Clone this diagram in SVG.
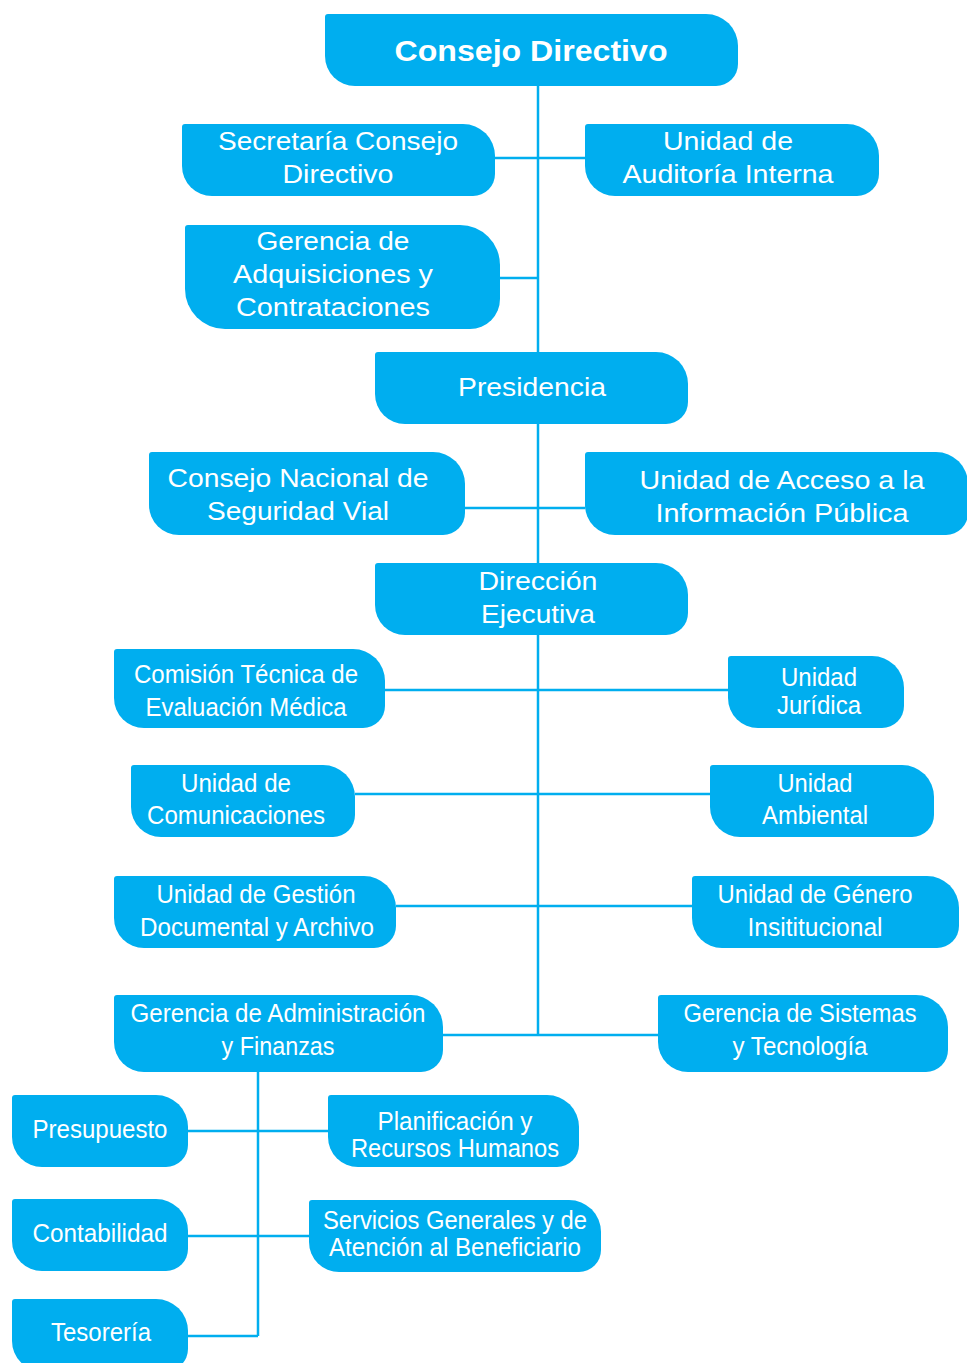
<svg xmlns="http://www.w3.org/2000/svg" width="967" height="1363" viewBox="0 0 967 1363">
<style>
.b{fill:#00AEEF}
.c{stroke:#00AEEF;stroke-width:2.5;fill:none}
text{font-family:"Liberation Sans",Arial,sans-serif;fill:#fff;text-anchor:middle;font-size:25px}
.t{font-weight:bold;font-size:29px}
</style>
<rect width="967" height="1363" fill="#fff"/>
<g id="connectors" class="c">
<path d="M538,86 V1035"/>
<path d="M495,158 H585"/>
<path d="M500,278 H538"/>
<path d="M465,508 H585"/>
<path d="M385,690 H728"/>
<path d="M355,794 H710"/>
<path d="M396,906 H692"/>
<path d="M443,1035 H658"/>
<path d="M258,1072 V1336"/>
<path d="M188,1131 H328"/>
<path d="M188,1236 H309"/>
<path d="M188,1336 H258"/>
</g>
<g id="consejo-directivo"><path class="b" d="M328,14 H706 A32 32 0 0 1 738,46 V64 A22 22 0 0 1 716,86 H355 A30 30 0 0 1 325,56 V17 A3 3 0 0 1 328,14 Z"/><text class="t" x="531" y="61" textLength="273" lengthAdjust="spacingAndGlyphs">Consejo Directivo</text></g>
<g id="secretaria"><path class="b" d="M185,124 H463 A32 32 0 0 1 495,156 V174 A22 22 0 0 1 473,196 H212 A30 30 0 0 1 182,166 V127 A3 3 0 0 1 185,124 Z"/><text x="338" y="150" textLength="240" lengthAdjust="spacingAndGlyphs">Secretaría Consejo</text><text x="338" y="183" textLength="111" lengthAdjust="spacingAndGlyphs">Directivo</text></g>
<g id="auditoria"><path class="b" d="M588,124 H847 A32 32 0 0 1 879,156 V174 A22 22 0 0 1 857,196 H615 A30 30 0 0 1 585,166 V127 A3 3 0 0 1 588,124 Z"/><text x="728" y="150" textLength="130" lengthAdjust="spacingAndGlyphs">Unidad de</text><text x="728" y="183" textLength="211" lengthAdjust="spacingAndGlyphs">Auditoría Interna</text></g>
<g id="adquisiciones"><path class="b" d="M188,225 H460 A40 40 0 0 1 500,265 V299 A30 30 0 0 1 470,329 H225 A40 40 0 0 1 185,289 V228 A3 3 0 0 1 188,225 Z"/><text x="333" y="250" textLength="153" lengthAdjust="spacingAndGlyphs">Gerencia de</text><text x="333" y="283" textLength="200" lengthAdjust="spacingAndGlyphs">Adquisiciones y</text><text x="333" y="316" textLength="194" lengthAdjust="spacingAndGlyphs">Contrataciones</text></g>
<g id="presidencia"><path class="b" d="M378,352 H656 A32 32 0 0 1 688,384 V402 A22 22 0 0 1 666,424 H405 A30 30 0 0 1 375,394 V355 A3 3 0 0 1 378,352 Z"/><text x="532" y="396" textLength="148" lengthAdjust="spacingAndGlyphs">Presidencia</text></g>
<g id="consejo-nacional"><path class="b" d="M152,452 H433 A32 32 0 0 1 465,484 V513 A22 22 0 0 1 443,535 H179 A30 30 0 0 1 149,505 V455 A3 3 0 0 1 152,452 Z"/><text x="298" y="487" textLength="261" lengthAdjust="spacingAndGlyphs">Consejo Nacional de</text><text x="298" y="520" textLength="182" lengthAdjust="spacingAndGlyphs">Seguridad Vial</text></g>
<g id="acceso-informacion"><path class="b" d="M588,452 H936 A32 32 0 0 1 968,484 V513 A22 22 0 0 1 946,535 H615 A30 30 0 0 1 585,505 V455 A3 3 0 0 1 588,452 Z"/><text x="782" y="489" textLength="285" lengthAdjust="spacingAndGlyphs">Unidad de Acceso a la</text><text x="782" y="522" textLength="253" lengthAdjust="spacingAndGlyphs">Información Pública</text></g>
<g id="direccion-ejecutiva"><path class="b" d="M378,563 H656 A32 32 0 0 1 688,595 V613 A22 22 0 0 1 666,635 H405 A30 30 0 0 1 375,605 V566 A3 3 0 0 1 378,563 Z"/><text x="538" y="590" textLength="119" lengthAdjust="spacingAndGlyphs">Dirección</text><text x="538" y="623" textLength="114" lengthAdjust="spacingAndGlyphs">Ejecutiva</text></g>
<g id="comision-tecnica"><path class="b" d="M117,649 H353 A32 32 0 0 1 385,681 V706 A22 22 0 0 1 363,728 H144 A30 30 0 0 1 114,698 V652 A3 3 0 0 1 117,649 Z"/><text x="246" y="683" textLength="224" lengthAdjust="spacingAndGlyphs">Comisión Técnica de</text><text x="246" y="716" textLength="201" lengthAdjust="spacingAndGlyphs">Evaluación Médica</text></g>
<g id="juridica"><path class="b" d="M731,656 H872 A32 32 0 0 1 904,688 V706 A22 22 0 0 1 882,728 H758 A30 30 0 0 1 728,698 V659 A3 3 0 0 1 731,656 Z"/><text x="819" y="686" textLength="76" lengthAdjust="spacingAndGlyphs">Unidad</text><text x="819" y="714" textLength="84" lengthAdjust="spacingAndGlyphs">Jurídica</text></g>
<g id="comunicaciones"><path class="b" d="M134,765 H323 A32 32 0 0 1 355,797 V815 A22 22 0 0 1 333,837 H161 A30 30 0 0 1 131,807 V768 A3 3 0 0 1 134,765 Z"/><text x="236" y="792" textLength="110" lengthAdjust="spacingAndGlyphs">Unidad de</text><text x="236" y="824" textLength="178" lengthAdjust="spacingAndGlyphs">Comunicaciones</text></g>
<g id="ambiental"><path class="b" d="M713,765 H902 A32 32 0 0 1 934,797 V815 A22 22 0 0 1 912,837 H740 A30 30 0 0 1 710,807 V768 A3 3 0 0 1 713,765 Z"/><text x="815" y="792" textLength="75" lengthAdjust="spacingAndGlyphs">Unidad</text><text x="815" y="824" textLength="106" lengthAdjust="spacingAndGlyphs">Ambiental</text></g>
<g id="gestion-documental"><path class="b" d="M117,876 H364 A32 32 0 0 1 396,908 V926 A22 22 0 0 1 374,948 H144 A30 30 0 0 1 114,918 V879 A3 3 0 0 1 117,876 Z"/><text x="256" y="903" textLength="199" lengthAdjust="spacingAndGlyphs">Unidad de Gestión</text><text x="257" y="936" textLength="234" lengthAdjust="spacingAndGlyphs">Documental y Archivo</text></g>
<g id="genero"><path class="b" d="M695,876 H927 A32 32 0 0 1 959,908 V926 A22 22 0 0 1 937,948 H722 A30 30 0 0 1 692,918 V879 A3 3 0 0 1 695,876 Z"/><text x="815" y="903" textLength="195" lengthAdjust="spacingAndGlyphs">Unidad de Género</text><text x="815" y="936" textLength="135" lengthAdjust="spacingAndGlyphs">Insititucional</text></g>
<g id="administracion-finanzas"><path class="b" d="M117,995 H411 A32 32 0 0 1 443,1027 V1050 A22 22 0 0 1 421,1072 H144 A30 30 0 0 1 114,1042 V998 A3 3 0 0 1 117,995 Z"/><text x="278" y="1022" textLength="295" lengthAdjust="spacingAndGlyphs">Gerencia de Administración</text><text x="278" y="1055" textLength="113" lengthAdjust="spacingAndGlyphs">y Finanzas</text></g>
<g id="sistemas-tecnologia"><path class="b" d="M661,995 H916 A32 32 0 0 1 948,1027 V1050 A22 22 0 0 1 926,1072 H688 A30 30 0 0 1 658,1042 V998 A3 3 0 0 1 661,995 Z"/><text x="800" y="1022" textLength="233" lengthAdjust="spacingAndGlyphs">Gerencia de Sistemas</text><text x="800" y="1055" textLength="135" lengthAdjust="spacingAndGlyphs">y Tecnología</text></g>
<g id="presupuesto"><path class="b" d="M15,1095 H156 A32 32 0 0 1 188,1127 V1145 A22 22 0 0 1 166,1167 H42 A30 30 0 0 1 12,1137 V1098 A3 3 0 0 1 15,1095 Z"/><text x="100" y="1138" textLength="135" lengthAdjust="spacingAndGlyphs">Presupuesto</text></g>
<g id="planificacion-rrhh"><path class="b" d="M331,1095 H547 A32 32 0 0 1 579,1127 V1145 A22 22 0 0 1 557,1167 H358 A30 30 0 0 1 328,1137 V1098 A3 3 0 0 1 331,1095 Z"/><text x="455" y="1130" textLength="155" lengthAdjust="spacingAndGlyphs">Planificación y</text><text x="455" y="1157" textLength="208" lengthAdjust="spacingAndGlyphs">Recursos Humanos</text></g>
<g id="contabilidad"><path class="b" d="M15,1199 H156 A32 32 0 0 1 188,1231 V1249 A22 22 0 0 1 166,1271 H42 A30 30 0 0 1 12,1241 V1202 A3 3 0 0 1 15,1199 Z"/><text x="100" y="1242" textLength="135" lengthAdjust="spacingAndGlyphs">Contabilidad</text></g>
<g id="servicios-generales"><path class="b" d="M312,1200 H569 A32 32 0 0 1 601,1232 V1250 A22 22 0 0 1 579,1272 H339 A30 30 0 0 1 309,1242 V1203 A3 3 0 0 1 312,1200 Z"/><text x="455" y="1229" textLength="264" lengthAdjust="spacingAndGlyphs">Servicios Generales y de</text><text x="455" y="1256" textLength="252" lengthAdjust="spacingAndGlyphs">Atención al Beneficiario</text></g>
<g id="tesoreria"><path class="b" d="M15,1299 H156 A32 32 0 0 1 188,1331 V1349 A22 22 0 0 1 166,1371 H42 A30 30 0 0 1 12,1341 V1302 A3 3 0 0 1 15,1299 Z"/><text x="101" y="1341" textLength="100" lengthAdjust="spacingAndGlyphs">Tesorería</text></g>
</svg>
